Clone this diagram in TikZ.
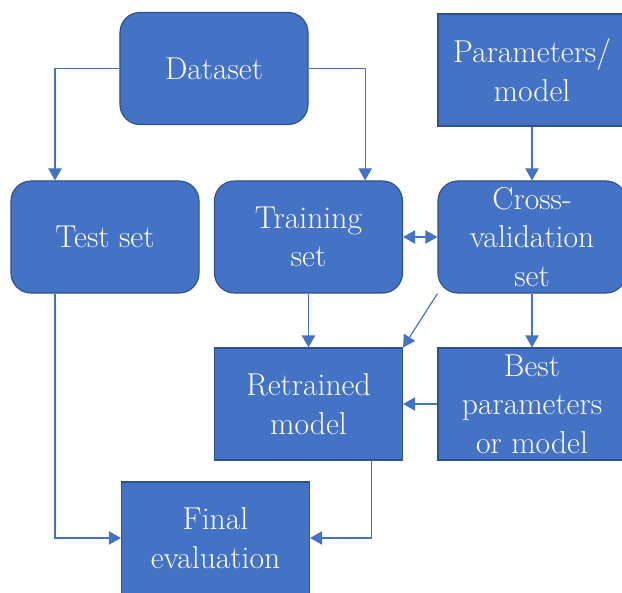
\documentclass[tikz,border=0pt]{standalone}
\usetikzlibrary{arrows.meta}
\definecolor{boxblue}{HTML}{4472C4}
\definecolor{edgeblue}{HTML}{2F528F}

\begin{document}
\begin{tikzpicture}[x=0.03cm,y=-0.03cm]
\tikzstyle{every node}+=[inner sep=0pt, text=white, align=center, font=\fontsize{27}{33}\selectfont]
\tikzstyle{roundbox}=[draw=edgeblue, fill=boxblue, line width=1pt, rounded corners=0.6cm, minimum width=5.64cm, minimum height=3.36cm]
\tikzstyle{squarebox}=[roundbox, sharp corners]
\tikzstyle{flow}=[draw=boxblue, line width=1pt, -{Triangle[length=0.36cm,width=0.4cm]}]
\clip (0,0) rectangle (622,592);
\node [roundbox] (dataset) at (214,68.5) {Dataset};
\node [squarebox] (params) at (532,70) {Parameters/\\model};
\node [roundbox] (testset) at (105,237) {Test set};
\node [roundbox] (training) at (308.5,237) {Training\\set};
\node [roundbox] (crossval) at (532,237) {Cross-\\validation\\set};
\node [squarebox] (retrained) at (308.5,404) {Retrained\\model};
\node [squarebox] (best) at (532,404) {Best\\parameters\\or model};
\node [squarebox] (final) at (215.5,538) {Final\\evaluation};
\draw [flow] (dataset.west) -| ([xshift=-1.5cm]testset.north);
\draw [flow] (dataset.east) -| ([xshift=1.7cm]training.north);
\draw [flow] (params.south) -- (crossval.north);
\draw [flow, {Triangle[length=0.36cm,width=0.4cm]}-{Triangle[length=0.36cm,width=0.4cm]}] (training.east) -- (crossval.west);
\draw [flow] (training.south) -- (retrained.north);
\draw [flow] (crossval.south west) -- (retrained.north east);
\draw [flow] (crossval.south) -- (best.north);
\draw [flow] (best.west) -- (retrained.east);
\draw [flow] ([xshift=-1.5cm]testset.south) |- (final.west);
\draw [flow] ([xshift=1.9cm]retrained.south) |- (final.east);
\end{tikzpicture}
\end{document}
